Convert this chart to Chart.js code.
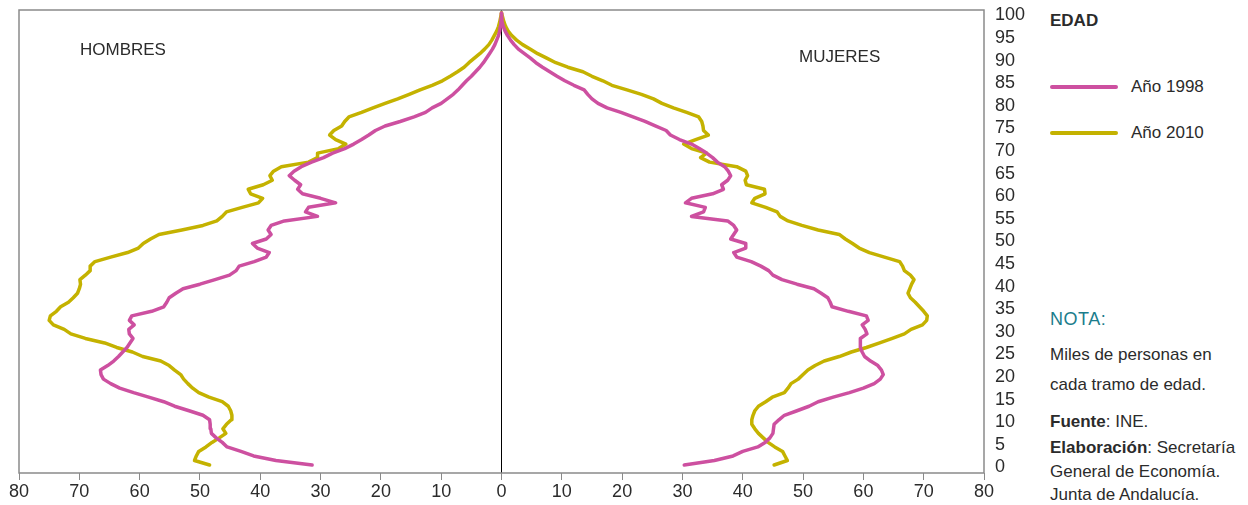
<!DOCTYPE html>
<html>
<head>
<meta charset="utf-8">
<script src="https://cdn.jsdelivr.net/npm/chart.js@4/dist/chart.umd.min.js"></script>
<style>
  html, body { margin:0; padding:0; background:#fff; }
  body { width:1248px; height:505px; position:relative; overflow:hidden; font-family:"Liberation Sans", Arial, sans-serif; color:#2b2b2b; }
  #wrap { position:absolute; left:0; top:0; width:1040px; height:505px; }
  .t { position:absolute; white-space:nowrap; font-size:17px; line-height:20px; }
  .b { font-weight:bold; }
  .sw { position:absolute; height:4px; width:68px; border-radius:2px; }
</style>
</head>
<body>
<div id="wrap"><canvas id="c" width="1040" height="505"></canvas></div>

<div class="t" style="left:80px; top:40px;">HOMBRES</div>
<div class="t" style="left:799px; top:47px;">MUJERES</div>

<div class="t b" style="left:1050px; top:11px; font-size:17px;">EDAD</div>
<div class="sw" style="left:1050px; top:85px; background:#cd50a0;"></div>
<div class="t" style="left:1131px; top:77px;">Año 1998</div>
<div class="sw" style="left:1050px; top:131px; background:#c4b200;"></div>
<div class="t" style="left:1131px; top:123px;">Año 2010</div>

<div class="t" style="left:1050px; top:309px; color:#1b7d8c; font-size:18px; letter-spacing:0.5px;">NOTA:</div>
<div class="t" style="left:1050px; top:345px;">Miles de personas en</div>
<div class="t" style="left:1050px; top:375px;">cada tramo de edad.</div>
<div class="t" style="left:1050px; top:412px;"><span class="b">Fuente</span>: INE.</div>
<div class="t" style="left:1050px; top:438px;"><span class="b">Elaboración</span>: Secretaría</div>
<div class="t" style="left:1050px; top:462px;">General de Economía.</div>
<div class="t" style="left:1050px; top:485px;">Junta de Andalucía.</div>

<script>
// Ages 0..100 (categories)
const ages = Array.from({length: 101}, (_, i) => i);
const ageTicks = [0,5,10,15,20,25,30,35,40,45,50,55,60,65,70,75,80,85,90,95,100];
const xTicks = [-80,-70,-60,-50,-40,-30,-20,-10,0,10,20,30,40,50,60,70,80];

// Thousands of persons per age (men shown to the left)
const hombres1998 = [
  31.4,37.4,41.1,43.2,45.5,46.3,47.3,48.1,48.2,48.3,
  48.4,49.5,51.8,54.2,56.0,58.5,61.0,63.3,64.8,66.0,
  66.4,66.5,65.3,64.3,63.5,62.8,62.1,61.6,61.1,61.7,
  61.8,60.9,61.7,61.3,58.0,56.0,55.5,55.1,54.0,52.8,
  50.0,47.5,45.1,44.0,43.5,41.0,39.0,38.5,40.5,41.3,
  39.0,38.2,38.7,38.2,36.0,30.5,32.5,32.0,27.5,30.0,
  33.0,33.8,33.3,34.3,35.2,34.4,33.2,31.5,29.5,28.0,
  26.0,24.5,23.2,22.0,20.9,19.3,16.8,14.5,12.6,11.5,
  10.0,9.0,8.0,7.2,6.5,5.8,5.0,4.3,3.6,3.0,
  2.5,2.0,1.5,1.1,0.8,0.5,0.3,0.2,0.1,0.05,
  0
];
const hombres2010 = [
  48.4,50.9,50.6,50.2,49.0,48.0,46.8,45.7,46.2,45.6,
  44.8,44.7,44.9,45.3,46.3,48.5,50.2,51.2,52.0,52.7,
  53.2,54.2,55.1,56.5,59.5,61.2,63.8,65.8,69.0,71.4,
  72.5,74.3,75.0,74.8,73.8,73.1,71.8,71.0,70.3,70.0,
  69.8,69.9,69.0,68.2,68.2,67.4,64.8,62.0,60.2,59.4,
  58.2,56.8,53.0,49.5,47.2,46.3,45.6,43.0,40.3,39.6,
  41.6,42.0,39.5,38.0,38.4,37.8,36.5,32.0,30.5,30.5,
  27.0,25.8,27.5,28.5,27.8,26.5,26.0,25.3,23.2,21.3,
  19.3,17.2,15.3,13.5,11.5,9.8,8.5,7.3,6.2,5.4,
  4.5,3.6,2.8,2.1,1.6,1.2,0.8,0.5,0.3,0.15,
  0
];
const mujeres1998 = [
  30.3,35.3,38.4,40.0,42.5,43.7,44.5,45.0,45.1,45.2,
  46.0,46.9,49.0,51.0,52.5,55.0,57.7,60.0,61.8,62.8,
  63.3,63.0,62.4,61.2,60.2,59.8,59.5,59.5,59.5,60.6,
  60.3,59.8,60.8,60.5,57.5,54.8,54.5,54.1,53.0,51.8,
  49.0,46.5,45.0,44.3,43.0,41.4,39.0,38.5,40.5,40.5,
  38.0,38.5,39.0,38.5,37.5,31.5,33.5,33.8,30.5,31.5,
  35.0,36.8,36.5,37.5,38.0,37.6,37.0,35.8,35.0,34.0,
  32.8,31.5,29.5,28.0,27.3,25.5,23.8,21.8,19.8,17.5,
  16.0,15.0,14.3,13.7,12.0,10.5,9.2,8.0,6.8,5.7,
  4.8,3.8,2.8,2.1,1.5,1.0,0.6,0.3,0.1,0.05,
  0
];
const mujeres2010 = [
  45.2,47.4,47.0,46.6,45.3,44.2,43.4,42.6,42.0,41.5,
  41.5,41.7,42.0,42.6,43.8,44.9,46.9,47.5,48.0,49.2,
  50.0,50.8,52.0,53.5,56.0,58.0,60.5,62.7,64.8,66.8,
  67.9,69.8,70.5,70.6,70.0,69.3,68.6,67.8,67.4,67.7,
  68.0,68.4,67.8,66.8,66.5,66.0,63.5,61.0,59.3,58.2,
  57.0,56.0,52.5,49.8,47.5,46.2,45.7,43.8,41.5,42.0,
  43.7,43.6,40.6,40.4,40.8,40.5,39.0,34.5,33.0,34.0,
  31.5,30.2,32.2,34.3,33.5,33.4,33.2,32.7,30.7,28.5,
  26.6,25.2,23.2,20.8,18.3,16.8,15.0,13.5,11.0,9.0,
  7.5,6.0,4.8,3.5,2.5,1.7,1.1,0.7,0.4,0.2,
  0
];

const C1998 = '#cd50a0';
const C2010 = '#c4b200';

function pts(vals, sign) {
  return ages.map((a, i) => ({ x: sign * vals[i], y: a }));
}

const frame = {
  id: 'frame',
  afterDraw(chart) {
    const {ctx, chartArea: a} = chart;
    ctx.save();
    ctx.strokeStyle = '#8a8a8a';
    ctx.lineWidth = 1.5;
    ctx.strokeRect(a.left, a.top, a.right - a.left, a.bottom - a.top);
    ctx.restore();
  }
};

const ds = (data, color) => ({
  data, borderColor: color, backgroundColor: color, showLine: true,
  borderWidth: 3.5, pointRadius: 0, pointHoverRadius: 0, tension: 0,
  borderJoinStyle: 'round', borderCapStyle: 'round', fill: false
});

new Chart(document.getElementById('c'), {
  type: 'scatter',
  data: {
    datasets: [
      ds(pts(hombres1998, -1), C1998),
      ds(pts(hombres2010, -1), C2010),
      ds(pts(mujeres1998, 1), C1998),
      ds(pts(mujeres2010, 1), C2010)
    ]
  },
  plugins: [frame],
  options: {
    responsive: false,
    animation: false,
    events: [],
    layout: { padding: { left: 19, top: 10, right: 0, bottom: 0 } },
    plugins: { legend: { display: false }, tooltip: { enabled: false } },
    scales: {
      x: {
        type: 'linear', position: 'bottom', min: -80, max: 80,
        afterBuildTicks(axis) { axis.ticks = xTicks.map(v => ({ value: v })); },
        afterFit(scale) { scale.height = 32; scale.paddingLeft = 0; scale.paddingRight = 0; },
        ticks: {
          callback: v => String(Math.abs(v)),
          font: { family: '"Liberation Sans", Arial, sans-serif', size: 18 },
          color: '#2b2b2b', padding: 1, maxRotation: 0, autoSkip: false
        },
        grid: {
          color: c => (c.tick && c.tick.value === 0) ? '#000' : 'rgba(0,0,0,0)',
          lineWidth: 1, tickColor: '#8a8a8a', tickLength: 7, drawTicks: true
        },
        border: { display: false }
      },
      y: {
        type: 'linear', position: 'right', min: -1.77, max: 100.66,
        afterBuildTicks(axis) { axis.ticks = ageTicks.map(v => ({ value: v })); },
        afterFit(scale) { scale.width = 56; scale.paddingTop = 0; scale.paddingBottom = 0; },
        ticks: {
          font: { family: '"Liberation Sans", Arial, sans-serif', size: 18 },
          color: '#2b2b2b', padding: 11, labelOffset: 2.5, autoSkip: false
        },
        grid: { display: false, drawTicks: false },
        border: { display: false }
      }
    }
  }
});
</script>
</body>
</html>
